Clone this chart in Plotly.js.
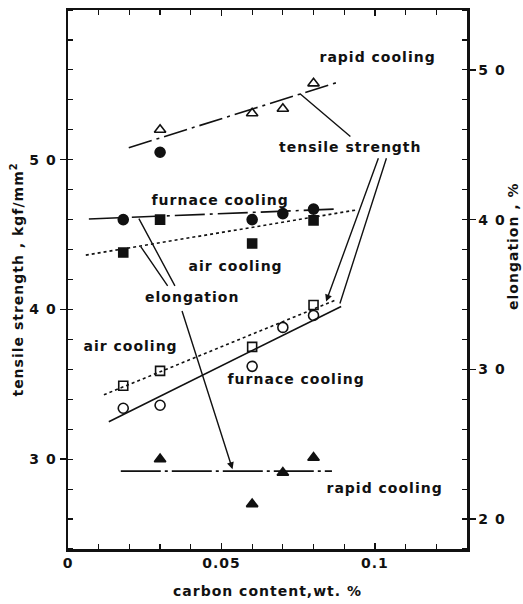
<!DOCTYPE html>
<html>
<head>
<meta charset="utf-8">
<script src="https://cdn.plot.ly/plotly-3.0.1.min.js"></script>
<style>
html,body{margin:0;padding:0;background:#fff;}
#chart{width:523px;height:604px;}
#chart text{letter-spacing:1px;}
</style>
</head>
<body>
<div id="chart"></div>
<script>
// ---- data (carbon content, wt.%) ----
var rapidTS_x = [0.03, 0.06, 0.07, 0.08];
var rapidTS_y = [52.0, 53.1, 53.4, 55.1];
var furnTS_x = [0.018, 0.03, 0.06, 0.07, 0.08];
var furnTS_y = [33.4, 33.6, 36.2, 38.8, 39.6];
var airTS_x = [0.018, 0.03, 0.06, 0.08];
var airTS_y = [34.9, 35.9, 37.5, 40.3];
var furnEL_x = [0.018, 0.03, 0.06, 0.07, 0.08];
var furnEL_y = [40.0, 44.5, 40.0, 40.4, 40.7];
var airEL_x = [0.018, 0.03, 0.06, 0.08];
var airEL_y = [37.8, 40.0, 38.4, 39.95];
var rapidEL_x = [0.03, 0.06, 0.07, 0.08];
var rapidEL_y = [24.0, 21.0, 23.1, 24.1];

// ---- fitted trend lines (end points) ----
var fitRapidTS_x = [0.0198, 0.0883], fitRapidTS_y = [50.8, 55.2];
var fitFurnTS_x = [0.0133, 0.0890], fitFurnTS_y = [32.5, 40.2];
var fitAirTS_x = [0.0117, 0.0877], fitAirTS_y = [34.3, 40.67];
var fitFurnEL_x = [0.0068, 0.0867], fitFurnEL_y = [40.04, 40.7];
var fitAirEL_x = [0.0058, 0.0938], fitAirEL_y = [37.63, 40.64];
var fitRapidEL_x = [0.0172, 0.086], fitRapidEL_y = [23.2, 23.2];

// ---- tick labels ----
var xTickVals = [0, 0.05, 0.1], xTickText = ['0', '0.05', '0.1'];
var yTickVals = [30, 40, 50], yTickText = ['3 0', '4 0', '5 0'];
var y2TickVals = [20, 30, 40, 50], y2TickText = ['2 0', '3 0', '4 0', '5 0'];

// ---- labels (text, x, y on left axis) ----
var labelText = ['rapid cooling', 'tensile strength', 'furnace cooling', 'air cooling', 'elongation', 'air cooling', 'furnace cooling', 'rapid cooling'];
var labelX = [0.101, 0.0919, 0.0494, 0.0545, 0.0403, 0.0205, 0.0744, 0.103];
var labelY = [56.87, 50.87, 47.33, 42.87, 40.8, 37.53, 35.33, 28.07];

// ---- leader lines (tail -> tip, left axis units) ----
var leadTailX = [0.0925, 0.1013, 0.1039, 0.0351, 0.0328, 0.037];
var leadTailY = [51.47, 50.2, 50.2, 41.47, 41.47, 40.0];
var leadTipX  = [0.0756, 0.0841, 0.0886, 0.0231, 0.0237, 0.0536];
var leadTipY  = [54.4, 40.53, 40.4, 46.07, 44.2, 29.33];
var leadHead  = [0, 1, 0, 0, 0, 1];

var FONT = 'DejaVu Sans, Arial, sans-serif';
var BLK = '#111';

function pts(x, y, sym, axis, size) {
  return {x: x, y: y, yaxis: axis, type: 'scatter', mode: 'markers', showlegend: false,
    marker: {symbol: sym, size: size || 10, color: BLK, line: {color: BLK, width: 1.6}}};
}
function fit(x, y, axis, dash) {
  return {x: x, y: y, yaxis: axis, type: 'scatter', mode: 'lines', showlegend: false,
    line: {color: BLK, width: 1.6, dash: dash}};
}

var traces = [
  fit(fitRapidTS_x, fitRapidTS_y, 'y', '24px,5px,3px,5px'),
  fit(fitFurnTS_x, fitFurnTS_y, 'y', 'solid'),
  fit(fitAirTS_x, fitAirTS_y, 'y', 'dot'),
  fit(fitFurnEL_x, fitFurnEL_y, 'y2', '30px,5px,3px,5px'),
  fit(fitAirEL_x, fitAirEL_y, 'y2', 'dot'),
  fit(fitRapidEL_x, fitRapidEL_y, 'y2', '40px,4px,3px,4px'),
  pts(rapidTS_x, rapidTS_y, 'triangle-up-open', 'y', 10),
  pts(furnTS_x, furnTS_y, 'circle-open', 'y', 10),
  pts(airTS_x, airTS_y, 'square-open', 'y', 9),
  pts(furnEL_x, furnEL_y, 'circle', 'y2', 10),
  pts(airEL_x, airEL_y, 'square', 'y2', 9),
  pts(rapidEL_x, rapidEL_y, 'triangle-up', 'y2', 10)
];

var TXT = {family: FONT, size: 14, color: BLK, weight: 'bold'};

var annotations = [];
for (var i = 0; i < labelText.length; i++) {
  annotations.push({x: labelX[i], y: labelY[i], xref: 'x', yref: 'y', text: labelText[i],
    showarrow: false, font: TXT});
}
for (var j = 0; j < leadTipX.length; j++) {
  annotations.push({x: leadTipX[j], y: leadTipY[j], xref: 'x', yref: 'y',
    ax: leadTailX[j], ay: leadTailY[j], axref: 'x', ayref: 'y', text: '',
    showarrow: true, arrowhead: leadHead[j] ? 2 : 0, arrowsize: 1, arrowwidth: 1.4, arrowcolor: BLK});
}
annotations.push({x: 1.115, y: 0.562, xref: 'paper', yref: 'paper', xanchor: 'center', yanchor: 'middle',
  text: 'elongation , %', textangle: -90, showarrow: false, font: TXT});

var axisCommon = {showgrid: false, zeroline: false, showline: true, linecolor: BLK, linewidth: 2.5,
  ticks: 'outside', ticklen: 6, tickwidth: 1.5, tickcolor: BLK,
  tickfont: {family: FONT, size: 14, color: BLK, weight: 'bold'}};

var layout = {
  width: 523, height: 604,
  margin: {l: 68, r: 56, t: 10, b: 55},
  paper_bgcolor: '#fff', plot_bgcolor: '#fff',
  showlegend: false,
  xaxis: Object.assign({}, axisCommon, {
    range: [0, 0.13], tickvals: xTickVals, ticktext: xTickText, ticks: 'inside', mirror: 'ticks',
    minor: {dtick: 0.01, tick0: 0, ticks: 'inside', ticklen: 5, tickwidth: 1.2, tickcolor: BLK},
    title: {text: 'carbon content,wt. %', standoff: 16, font: TXT}
  }),
  yaxis: Object.assign({}, axisCommon, {
    range: [24, 60], tickvals: yTickVals, ticktext: yTickText,
    minor: {dtick: 2, tick0: 0, ticks: 'inside', ticklen: 5, tickwidth: 1.2, tickcolor: BLK},
    title: {text: 'tensile strength , kgf/mm<sup>2</sup>', standoff: 6, font: TXT}
  }),
  yaxis2: Object.assign({}, axisCommon, {
    range: [18, 54], tickvals: y2TickVals, ticktext: y2TickText, overlaying: 'y', side: 'right',
    minor: {dtick: 2, tick0: 0, ticks: 'inside', ticklen: 5, tickwidth: 1.2, tickcolor: BLK}
  }),
  annotations: annotations
};

Plotly.newPlot('chart', traces, layout, {displayModeBar: false, staticPlot: true});
</script>
</body>
</html>
